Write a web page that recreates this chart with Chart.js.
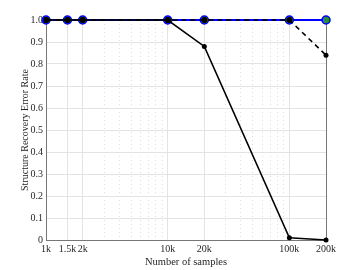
<!DOCTYPE html>
<html>
<head>
<meta charset="utf-8">
<script src="https://cdn.jsdelivr.net/npm/chart.js@4.4.1/dist/chart.umd.min.js"></script>
<style>
  html, body { margin: 0; padding: 0; background: #fff; }
  #wrap { width: 360px; height: 270px; }
</style>
</head>
<body>
<div id="wrap"><canvas id="errChart" width="360" height="270"></canvas></div>
<script>
// samples on x (log axis) and the three error-rate curves
const samples = [1000, 1500, 2000, 10000, 20000, 100000, 200000];
const sampleLabels = ["1k", "1.5k", "2k", "10k", "20k", "100k", "200k"];
const minorTicks = [3000, 4000, 5000, 6000, 7000, 8000, 9000, 30000, 40000, 50000, 60000, 70000, 80000, 90000];
const blueRate = [1, 1, 1, 1, 1, 1, 1];
const dashedRate = [1, 1, 1, 1, 1, 1, 0.84];
const solidRate = [1, 1, 1, 1, 0.88, 0.01, 0];

const serif = "'Liberation Serif', 'DejaVu Serif', serif";
const toXY = (ys) => samples.map((x, i) => ({ x: x, y: ys[i] }));

const ctx = document.getElementById("errChart");

new Chart(ctx, {
  type: 'line',
  data: {
    datasets: [{
        data: toXY(blueRate),
        order: 3, // drawn first, sits under the black curves
        clip: false,
        borderColor: "#0000ff",
        borderWidth: 2,
        pointRadius: 4,
        pointBackgroundColor: "#2e8b3a",
        pointBorderColor: "#0000ff",
        pointBorderWidth: 1.5
      }, {
        data: toXY(solidRate),
        order: 2,
        clip: false,
        borderColor: "#000",
        borderWidth: 1.6,
        pointRadius: [3, 3, 3, 3, 2.5, 2.5, 2.5],
        pointBackgroundColor: "#000",
        pointBorderWidth: 0
      }, {
        data: toXY(dashedRate),
        order: 1,
        clip: false,
        borderColor: "#000",
        borderWidth: 1.6,
        borderDash: [5, 4],
        pointRadius: [3, 3, 3, 3, 3, 3, 2.5],
        pointBackgroundColor: "#000",
        pointBorderWidth: 0
      }
    ]
  },
  options: {
    responsive: false,
    animation: false,
    layout: { padding: { left: 19, top: 20, right: 0, bottom: 0 } },
    plugins: { legend: { display: false }, tooltip: { enabled: false } },
    scales: {
      x: {
        type: 'logarithmic',
        position: 'bottom',
        min: 1000,
        max: 200000,
        afterBuildTicks: (s) => { s.ticks = samples.map(v => ({ value: v })); },
        afterFit: (s) => { s.height = 30; },
        ticks: {
          autoSkip: false,
          maxRotation: 0,
          padding: 3,
          color: "#262626",
          font: { family: serif, size: 10 },
          callback: (v, i) => sampleLabels[i]
        },
        grid: { color: "#e3e3e3", drawTicks: false },
        border: { color: "#777" },
        title: {
          display: true,
          text: "Number of samples",
          color: "#262626",
          font: { family: serif, size: 10.5 },
          padding: { top: 0, bottom: 1 }
        }
      },
      xMinor: {
        type: 'logarithmic',
        position: 'bottom',
        min: 1000,
        max: 200000,
        afterBuildTicks: (s) => { s.ticks = minorTicks.map(v => ({ value: v })); },
        afterFit: (s) => { s.height = 0; },
        ticks: { display: false },
        grid: { color: "#dcdcdc", drawTicks: false },
        border: { display: false, dash: [1, 3] }
      },
      xTop: {
        type: 'logarithmic',
        position: 'top',
        min: 1000,
        max: 200000,
        afterFit: (s) => { s.height = 0; },
        ticks: { display: false },
        grid: { display: false },
        border: { color: "#777" }
      },
      y: {
        min: 0,
        max: 1,
        afterFit: (s) => { s.width = 27; },
        ticks: {
          stepSize: 0.1,
          padding: 3,
          color: "#262626",
          font: { family: serif, size: 10 }
        },
        grid: { color: "#e3e3e3", drawTicks: false },
        border: { color: "#777" },
        title: {
          display: true,
          text: "Structure Recovery Error Rate",
          color: "#262626",
          font: { family: serif, size: 10 },
          padding: 0
        }
      },
      yRight: {
        position: 'right',
        min: 0,
        max: 1,
        afterFit: (s) => { s.width = 34; },
        ticks: { display: false },
        grid: { display: false },
        border: { color: "#777" }
      }
    }
  }
});
</script>
</body>
</html>
